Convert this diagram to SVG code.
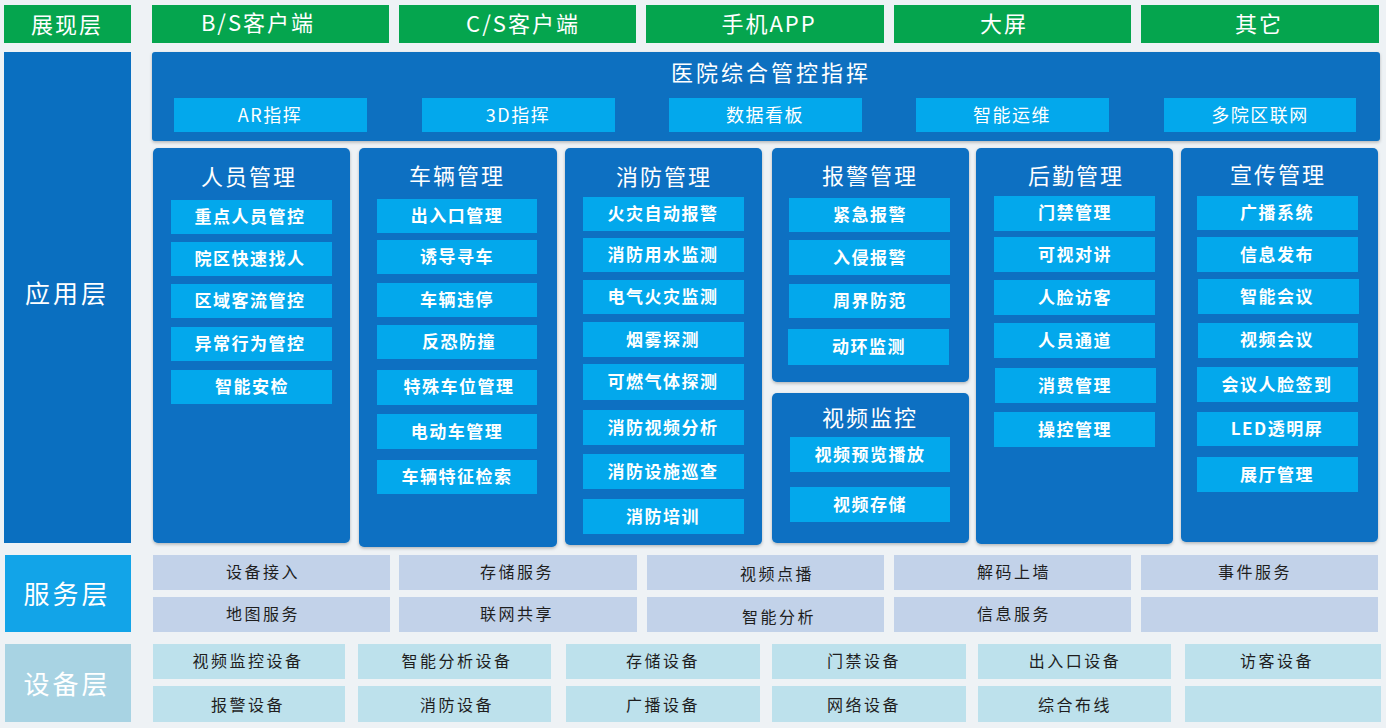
<svg xmlns="http://www.w3.org/2000/svg" width="1386" height="728" viewBox="0 0 1386 728">
<defs>
<style>
.bg{fill:#eef2f5}
.grn{fill:#05a54e}
.lay{fill:#0a6fc0}
.blk{fill:#0a70c2}
.it{fill:#03a8ec}
.svl{fill:#12a4e8}
.dvl{fill:#a8d3e3}
.svc{fill:#c2d2e9}
.dev{fill:#bde1ec}
text{font-family:"Noto Sans CJK SC","Noto Sans",sans-serif;text-anchor:middle;dominant-baseline:central;transform:translateY(-1.5px)}
.tw{fill:#ffffff;font-size:22px;letter-spacing:2px}
.tl{fill:#ffffff;font-size:25px;letter-spacing:3px}
.th{fill:#ffffff;font-size:22px;letter-spacing:3px}
.tt{fill:#ffffff;font-size:22px;letter-spacing:2px}
.ti{fill:#ffffff;font-size:17px;letter-spacing:1.5px;font-weight:600}
.tb{fill:#ffffff;font-size:18px;letter-spacing:1.5px}
.ts{fill:#1e1e1e;font-size:16px;letter-spacing:2.5px}
</style>
<filter id="sh" x="-5%" y="-5%" width="110%" height="110%">
<feDropShadow dx="0" dy="1.5" stdDeviation="1.5" flood-color="#000" flood-opacity="0.25"/>
</filter>
</defs>
<rect class="bg" x="0" y="0" width="1386" height="728"/>

<g id="presentation-layer">
<rect class="grn" x="4" y="5" width="127" height="38"/>
<text class="tw" x="67" y="24">展现层</text>
<rect class="grn" x="152" y="5" width="237" height="38"/>
<text class="tw" x="258" y="22">B/S客户端</text>
<rect class="grn" x="399" y="5" width="237" height="38"/>
<text class="tw" x="523" y="23">C/S客户端</text>
<rect class="grn" x="646" y="5" width="238" height="38"/>
<text class="tw" x="769" y="23">手机APP</text>
<rect class="grn" x="894" y="5" width="237" height="38"/>
<text class="tw" x="1004" y="23">大屏</text>
<rect class="grn" x="1141" y="5" width="238" height="38"/>
<text class="tw" x="1259" y="23">其它</text>
</g>

<g id="application-label">
<rect class="lay" x="4" y="52" width="127" height="491"/>
<text class="tl" x="67" y="293">应用层</text>
</g>

<g id="command-center">
<rect class="lay" x="152" y="52" width="1228" height="89" rx="3" filter="url(#sh)"/>
<text class="th" x="771" y="72">医院综合管控指挥</text>
<rect class="it" x="174" y="98" width="193" height="34"/>
<text class="tb" x="270" y="115">AR指挥</text>
<rect class="it" x="422" y="98" width="193" height="34"/>
<text class="tb" x="518" y="115">3D指挥</text>
<rect class="it" x="669" y="98" width="193" height="34"/>
<text class="tb" x="765" y="115">数据看板</text>
<rect class="it" x="916" y="98" width="193" height="34"/>
<text class="tb" x="1012" y="115">智能运维</text>
<rect class="it" x="1164" y="98" width="192" height="34"/>
<text class="tb" x="1260" y="115">多院区联网</text>
</g>

<g id="personnel">
<rect class="blk" x="153" y="148" width="197" height="395" rx="5" filter="url(#sh)"/>
<text class="tt" x="249" y="176">人员管理</text>
<rect class="it" x="171" y="200" width="161" height="34"/><text class="ti" x="250" y="217">重点人员管控</text>
<rect class="it" x="171" y="242" width="161" height="34"/><text class="ti" x="250" y="259">院区快速找人</text>
<rect class="it" x="171" y="284" width="161" height="34"/><text class="ti" x="250" y="301">区域客流管控</text>
<rect class="it" x="171" y="327" width="161" height="34"/><text class="ti" x="250" y="344">异常行为管控</text>
<rect class="it" x="171" y="370" width="161" height="34"/><text class="ti" x="252" y="387">智能安检</text>
</g>

<g id="vehicle">
<rect class="blk" x="359" y="148" width="198" height="399" rx="5" filter="url(#sh)"/>
<text class="tt" x="457" y="175">车辆管理</text>
<rect class="it" x="377" y="199" width="160" height="34"/><text class="ti" x="457" y="216">出入口管理</text>
<rect class="it" x="377" y="240" width="160" height="34"/><text class="ti" x="457" y="257">诱导寻车</text>
<rect class="it" x="377" y="283" width="160" height="34"/><text class="ti" x="457" y="300">车辆违停</text>
<rect class="it" x="377" y="325" width="160" height="34"/><text class="ti" x="459" y="342">反恐防撞</text>
<rect class="it" x="377" y="370" width="160" height="35"/><text class="ti" x="459" y="387">特殊车位管理</text>
<rect class="it" x="377" y="414" width="160" height="35"/><text class="ti" x="457" y="432">电动车管理</text>
<rect class="it" x="377" y="460" width="160" height="34"/><text class="ti" x="457" y="477">车辆特征检索</text>
</g>

<g id="fire">
<rect class="blk" x="565" y="148" width="197" height="397" rx="5" filter="url(#sh)"/>
<text class="tt" x="664" y="176">消防管理</text>
<rect class="it" x="583" y="197" width="161" height="34"/><text class="ti" x="663" y="214">火灾自动报警</text>
<rect class="it" x="583" y="238" width="161" height="34"/><text class="ti" x="663" y="255">消防用水监测</text>
<rect class="it" x="583" y="280" width="161" height="34"/><text class="ti" x="663" y="297">电气火灾监测</text>
<rect class="it" x="583" y="322" width="161" height="35"/><text class="ti" x="663" y="340">烟雾探测</text>
<rect class="it" x="583" y="364" width="161" height="36"/><text class="ti" x="663" y="382">可燃气体探测</text>
<rect class="it" x="583" y="410" width="161" height="35"/><text class="ti" x="663" y="428">消防视频分析</text>
<rect class="it" x="583" y="454" width="161" height="35"/><text class="ti" x="663" y="472">消防设施巡查</text>
<rect class="it" x="583" y="499" width="161" height="35"/><text class="ti" x="663" y="517">消防培训</text>
</g>

<g id="alarm">
<rect class="blk" x="772" y="148" width="197" height="234" rx="5" filter="url(#sh)"/>
<text class="tt" x="870" y="175">报警管理</text>
<rect class="it" x="789" y="198" width="161" height="34"/><text class="ti" x="870" y="215">紧急报警</text>
<rect class="it" x="789" y="240" width="161" height="35"/><text class="ti" x="870" y="258">入侵报警</text>
<rect class="it" x="789" y="284" width="161" height="34"/><text class="ti" x="870" y="301">周界防范</text>
<rect class="it" x="788" y="329" width="161" height="36"/><text class="ti" x="869" y="347">动环监测</text>
</g>

<g id="video">
<rect class="blk" x="772" y="393" width="197" height="150" rx="5" filter="url(#sh)"/>
<text class="tt" x="870" y="417">视频监控</text>
<rect class="it" x="790" y="437" width="160" height="35"/><text class="ti" x="870" y="455">视频预览播放</text>
<rect class="it" x="790" y="487" width="160" height="35"/><text class="ti" x="870" y="505">视频存储</text>
</g>

<g id="logistics">
<rect class="blk" x="976" y="148" width="197" height="396" rx="5" filter="url(#sh)"/>
<text class="tt" x="1076" y="175">后勤管理</text>
<rect class="it" x="994" y="196" width="161" height="35"/><text class="ti" x="1075" y="213">门禁管理</text>
<rect class="it" x="994" y="237" width="161" height="35"/><text class="ti" x="1075" y="255">可视对讲</text>
<rect class="it" x="994" y="280" width="161" height="35"/><text class="ti" x="1075" y="298">人脸访客</text>
<rect class="it" x="994" y="323" width="161" height="35"/><text class="ti" x="1075" y="341">人员通道</text>
<rect class="it" x="995" y="368" width="161" height="35"/><text class="ti" x="1075" y="386">消费管理</text>
<rect class="it" x="994" y="412" width="161" height="35"/><text class="ti" x="1075" y="430">操控管理</text>
</g>

<g id="publicity">
<rect class="blk" x="1181" y="148" width="197" height="394" rx="5" filter="url(#sh)"/>
<text class="tt" x="1278" y="174">宣传管理</text>
<rect class="it" x="1197" y="196" width="161" height="34"/><text class="ti" x="1277" y="213">广播系统</text>
<rect class="it" x="1197" y="237" width="161" height="35"/><text class="ti" x="1277" y="255">信息发布</text>
<rect class="it" x="1198" y="279" width="161" height="35"/><text class="ti" x="1277" y="297">智能会议</text>
<rect class="it" x="1198" y="323" width="160" height="35"/><text class="ti" x="1277" y="340">视频会议</text>
<rect class="it" x="1197" y="367" width="161" height="35"/><text class="ti" x="1277" y="385">会议人脸签到</text>
<rect class="it" x="1197" y="412" width="161" height="34"/><text class="ti" x="1277" y="429">LED透明屏</text>
<rect class="it" x="1197" y="457" width="161" height="35"/><text class="ti" x="1277" y="475">展厅管理</text>
</g>

<g id="service-layer">
<rect class="svl" x="5" y="555" width="126" height="77"/>
<text class="tl" x="67" y="594" style="font-size:26px">服务层</text>
<rect class="svc" x="153" y="555" width="237" height="35"/><text class="ts" x="263" y="572">设备接入</text>
<rect class="svc" x="399" y="555" width="238" height="35"/><text class="ts" x="517" y="572">存储服务</text>
<rect class="svc" x="647" y="555" width="237" height="35"/><text class="ts" x="777" y="574">视频点播</text>
<rect class="svc" x="894" y="555" width="237" height="35"/><text class="ts" x="1014" y="572">解码上墙</text>
<rect class="svc" x="1141" y="555" width="237" height="35"/><text class="ts" x="1255" y="572">事件服务</text>
<rect class="svc" x="153" y="597" width="237" height="35"/><text class="ts" x="263" y="614">地图服务</text>
<rect class="svc" x="399" y="597" width="238" height="35"/><text class="ts" x="517" y="614">联网共享</text>
<rect class="svc" x="647" y="597" width="237" height="35"/><text class="ts" x="779" y="617">智能分析</text>
<rect class="svc" x="894" y="597" width="237" height="35"/><text class="ts" x="1014" y="614">信息服务</text>
<rect class="svc" x="1141" y="597" width="237" height="35"/>
</g>

<g id="device-layer">
<rect class="dvl" x="5" y="644" width="126" height="78"/>
<text class="tl" x="67" y="684" style="font-size:26px">设备层</text>
<rect class="dev" x="153" y="644" width="192" height="35"/><text class="ts" x="248" y="661">视频监控设备</text>
<rect class="dev" x="358" y="644" width="193" height="35"/><text class="ts" x="457" y="661">智能分析设备</text>
<rect class="dev" x="566" y="644" width="194" height="35"/><text class="ts" x="663" y="661">存储设备</text>
<rect class="dev" x="772" y="644" width="194" height="35"/><text class="ts" x="864" y="661">门禁设备</text>
<rect class="dev" x="978" y="644" width="193" height="35"/><text class="ts" x="1075" y="661">出入口设备</text>
<rect class="dev" x="1185" y="644" width="196" height="35"/><text class="ts" x="1277" y="661">访客设备</text>
<rect class="dev" x="153" y="686" width="192" height="36"/><text class="ts" x="248" y="705">报警设备</text>
<rect class="dev" x="358" y="686" width="193" height="36"/><text class="ts" x="457" y="705">消防设备</text>
<rect class="dev" x="566" y="686" width="194" height="36"/><text class="ts" x="663" y="705">广播设备</text>
<rect class="dev" x="772" y="686" width="194" height="36"/><text class="ts" x="864" y="705">网络设备</text>
<rect class="dev" x="978" y="686" width="193" height="36"/><text class="ts" x="1075" y="705">综合布线</text>
<rect class="dev" x="1185" y="686" width="196" height="36"/>
</g>

<g id="connectors"></g>
</svg>
